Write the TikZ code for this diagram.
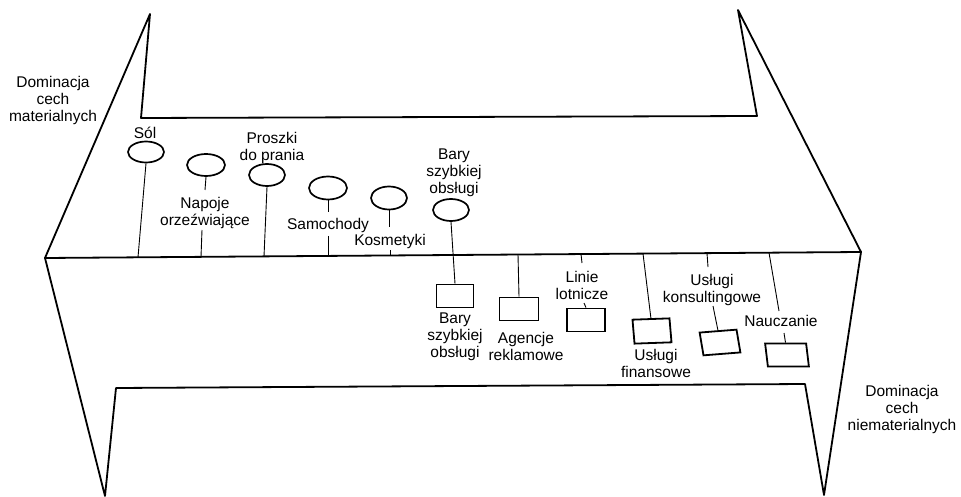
\documentclass[tikz,border=0pt]{standalone}
\usepackage{fontspec}
\setmainfont{Liberation Sans}
\usetikzlibrary{shapes.geometric}

\begin{document}
\begin{tikzpicture}[x=1pt,y=-1pt,
  frame/.style={line width=1.8pt, line join=round, line cap=round},
  stem/.style={line width=0.9pt},
  good/.style={ellipse, draw, line width=1.7pt, minimum width=36pt, minimum height=21pt, inner sep=0pt},
  serv/.style={rectangle, draw, line width=1.8pt, inner sep=0pt, minimum width=37pt, minimum height=23pt},
  lbl/.style={font=\fontsize{15.5}{17}\selectfont, align=center, inner sep=0pt, anchor=north}
]
\useasboundingbox (0,0) rectangle (961,497);

% outline corners
\coordinate (L) at (45,258);
\coordinate (R) at (861,252);
\coordinate (TL) at (150,14);
\coordinate (TLi) at (141,118);
\coordinate (TRi) at (757,116);
\coordinate (TR) at (738,10);
\coordinate (BL) at (105,496);
\coordinate (BLi) at (116,388);
\coordinate (BRi) at (805,384);
\coordinate (BR) at (824,495);

\draw[frame] (L) -- (TL) -- (TLi) -- (TRi) -- (TR) -- (R);
\draw[frame] (L) -- (R);
\draw[frame] (L) -- (BL) -- (BLi) -- (BRi) -- (BR) -- (R);

% side captions
\node[lbl] (capL) at (53,76) {Dominacja\\cech\\materialnych};
\node[lbl] (capR) at (902,385) {Dominacja\\cech\\niematerialnych};

% goods (upper half)
\node[good] (g1) at (146,152) {};
\node[good, minimum width=38pt, minimum height=22pt] (g2) at (206,165) {};
\node[good, minimum height=22pt] (g3) at (267,175) {};
\node[good, minimum width=38pt, minimum height=23pt] (g4) at (328,188) {};
\node[good, minimum height=23pt] (g5) at (389,198) {};
\node[good, minimum height=22pt] (g6) at (451,210) {};

\node[lbl] (t1) at (145,127) {Sól};
\node[lbl] (t2) at (205,197) {Napoje\\orzeźwiające};
\node[lbl] (t3) at (272,132) {Proszki\\do prania};
\node[lbl] (t4) at (328,218) {Samochody};
\node[lbl] (t5) at (390,234) {Kosmetyki};
\node[lbl] (t6) at (454,149) {Bary\\szybkiej\\obsługi};

% services (lower half)
\node[serv] (s1) at (455,296) {};
\node[serv, minimum width=39pt] (s2) at (519,309) {};
\node[serv, minimum width=38pt] (s3) at (586,320) {};
\node[serv, minimum height=24pt, rotate=2, xslant=-0.05] (s4) at (652,331) {};
\node[serv, minimum width=37pt, rotate=4.5, xslant=-0.09] (s5) at (720,342.5) {};
\node[serv, minimum width=41pt, xslant=-0.12] (s6) at (787,355) {};

\node[lbl] (u1) at (455,313) {Bary\\szybkiej\\obsługi};
\node[lbl] (u2) at (526,332) {Agencje\\reklamowe};
\node[lbl] (u3) at (582,271) {Linie\\lotnicze};
\node[lbl] (u4) at (656,349) {Usługi\\finansowe};
\node[lbl] (u5) at (712,274) {Usługi\\konsultingowe};
\node[lbl] (u6) at (781,315) {Nauczanie};

% points on the dividing line
\coordinate (m1) at (138,257.3);
\coordinate (m2) at (201,256.9);
\coordinate (m3) at (264,256.4);
\coordinate (m4) at (328,255.9);
\coordinate (m5) at (390,255.5);
\coordinate (m7) at (518,254.5);
\coordinate (m8) at (581,254);
\coordinate (m9) at (643,253.6);
\coordinate (m10) at (707,253.1);
\coordinate (m11) at (769,252.7);

% stem ends beside the labels
\coordinate (n2) at (205,190);
\coordinate (q2) at (202,230);
\coordinate (n4) at (328,212);
\coordinate (q4) at (328,236);
\coordinate (n5) at (389,227);
\coordinate (q5) at (390,250);
\coordinate (n8) at (582,263);
\coordinate (q8) at (584,303);
\coordinate (n10) at (708,267);
\coordinate (q10) at (713,306);
\coordinate (n11) at (779,311);
\coordinate (q11) at (784,333);

% stems of the goods
\draw[stem] (g1.south) -- (m1);
\draw[stem] (g2.south) -- (n2);
\draw[stem] (q2) -- (m2);
\draw[stem] (g3.south) -- (m3);
\draw[stem] (g4.south) -- (n4);
\draw[stem] (q4) -- (m4);
\draw[stem] (g5.south) -- (n5);
\draw[stem] (q5) -- (m5);
\draw[stem] (g6.south) -- (s1.north);

% stems of the services
\draw[stem] (m7) -- (s2.north);
\draw[stem] (m8) -- (n8);
\draw[stem] (q8) -- (s3.north);
\draw[stem] (m9) -- (s4.north);
\draw[stem] (m10) -- (n10);
\draw[stem] (q10) -- (s5.north);
\draw[stem] (m11) -- (n11);
\draw[stem] (q11) -- (s6.north);
\end{tikzpicture}
\end{document}
